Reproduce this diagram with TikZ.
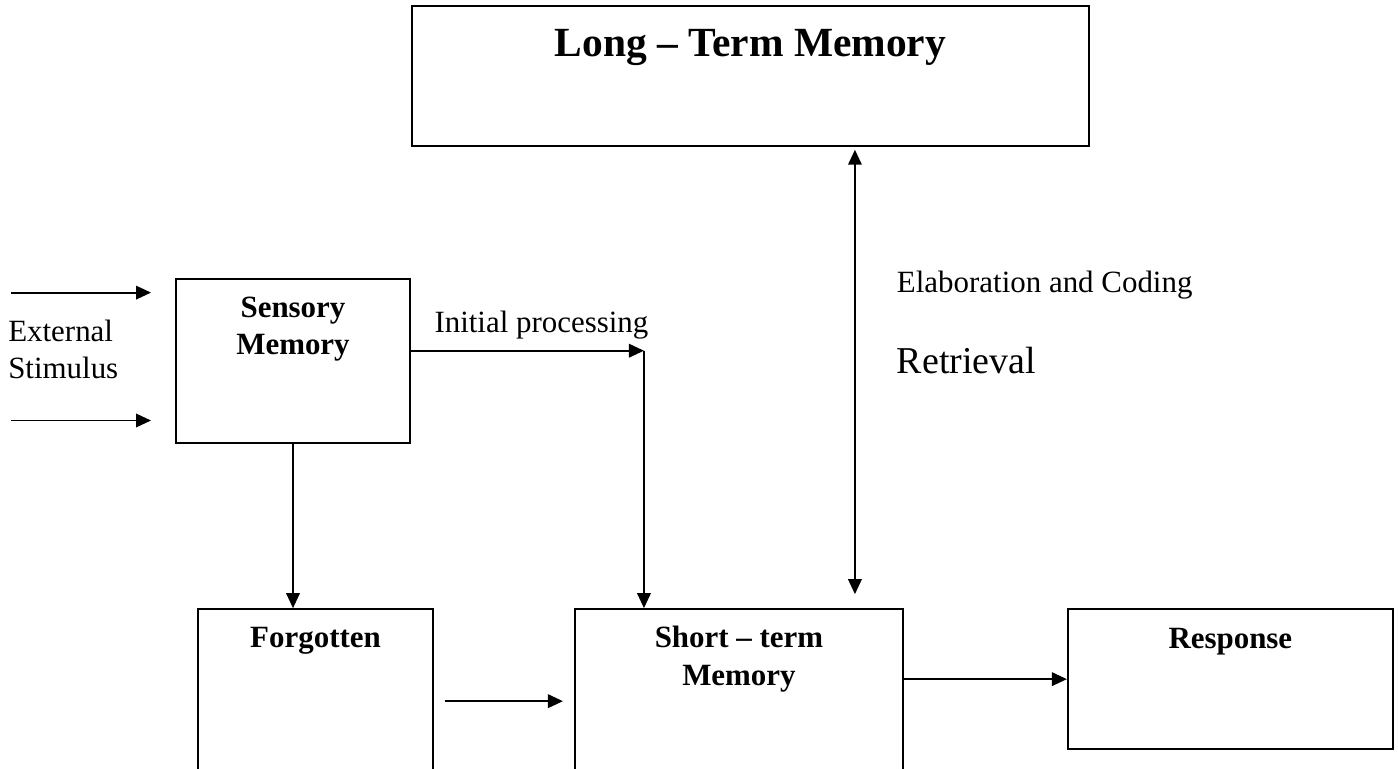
\documentclass[tikz,border=0pt]{standalone}
\usepackage{fontspec}
\setmainfont{Liberation Serif}
\usetikzlibrary{arrows.meta,positioning}

\begin{document}
\begin{tikzpicture}[>={Triangle[length=0.3cm,width=0.27cm]},line width=1.1pt,
    membox/.style={draw,line width=1.1pt,inner sep=0pt},
    boxlabel/.style={inner sep=0pt,align=center,font=\fontsize{17.6}{21.3}\selectfont\bfseries},
    plain/.style={inner sep=0pt,align=left,font=\fontsize{17.6}{21.3}\selectfont}]
    \useasboundingbox (0,0) rectangle (27.96,-15.38);
    \clip (0,0) rectangle (27.96,-15.38);

    \node[membox,minimum width=4.68cm,minimum height=3.28cm] (sensory) at (5.86,-7.224) {};
    \node[membox,minimum width=13.54cm,minimum height=2.8cm,above=2.63cm of sensory.north east,anchor=south west] (ltm) {};
    \node[membox,minimum width=4.7cm,minimum height=3.86cm,below=3.28cm of sensory,xshift=0.45cm] (forgotten) {};
    \node[membox,minimum width=6.56cm,minimum height=3.86cm,right=2.8cm of forgotten] (stm) {};
    \node[membox,minimum width=6.5cm,minimum height=2.8cm,right=3.26cm of stm.north east,anchor=north west] (response) {};

    \node[boxlabel,font=\fontsize{23.6}{28}\selectfont\bfseries,below=0.48cm of ltm.north] (ltmtext) {Long – Term Memory};
    \node[boxlabel,below=0.35cm of sensory.north] (sensorytext) {Sensory\\Memory};
    \node[boxlabel,below=0.37cm of forgotten.north] (forgottentext) {Forgotten};
    \node[boxlabel,below=0.34cm of stm.north] (stmtext) {Short – term\\Memory};
    \node[boxlabel,below=0.38cm of response.north] (responsetext) {Response};

    \node[plain,anchor=north west] (stimtext) at (0.146,-6.38) {External\\Stimulus};
    \node[plain,anchor=base west] (elabtext) at (17.92,-5.854) {Elaboration and Coding};
    \node[plain,anchor=base west,font=\fontsize{21.6}{26}\selectfont] (retrtext) at (17.92,-7.466) {Retrieval};

    \coordinate (stimA) at (0.22,-5.852);
    \coordinate (stimB) at (0.22,-8.41);
    \coordinate (ipcorner) at ([xshift=4.66cm,yshift=0.21cm]sensory.east);

    \draw[->,shorten >=0.48cm] (stimA) -- (stimA -| sensory.west);
    \draw[->,shorten >=0.48cm] (stimB) -- (stimB -| sensory.west);
    \draw[->] (sensory.east |- ipcorner) -- node[plain,above,pos=0.56,inner sep=0.22cm] (iptext) {Initial processing} (ipcorner);
    \draw[->] (ipcorner) -- (ipcorner |- stm.north);
    \draw[->] (sensory.south) -- (sensory.south |- forgotten.north);
    \draw[->,shorten <=0.22cm,shorten >=0.22cm] ([yshift=-1.86cm]forgotten.north east) -- ([yshift=-1.86cm]stm.north west);
    \draw[->] (stm.east |- response.west) -- (response.west);
    \draw[<->,shorten <=0.06cm,shorten >=0.28cm] ([xshift=2.09cm]ltm.south) -- ([xshift=2.09cm]ltm.south |- stm.north);
\end{tikzpicture}
\end{document}
